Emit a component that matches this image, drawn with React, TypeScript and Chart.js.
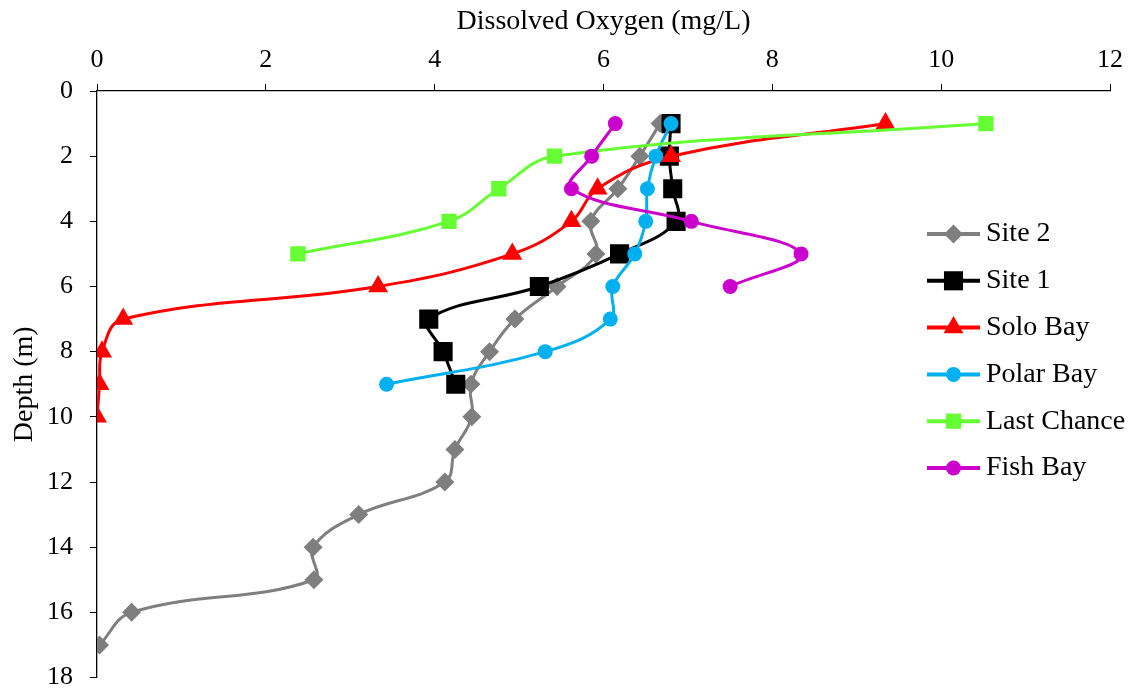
import React, { useEffect, useRef } from 'react';
import { Chart, registerables } from 'chart.js';

Chart.register(...registerables);

const FONT = "'Liberation Serif', 'Times New Roman', serif";

// Depth (m) and dissolved oxygen (mg/L) per site
const site2Depth = [1, 2, 3, 4, 5, 6, 7, 8, 9, 10, 11, 12, 13, 14, 15, 16, 17];
const site2DO = [6.67, 6.43, 6.17, 5.85, 5.91, 5.45, 4.95, 4.65, 4.43, 4.44, 4.24, 4.12, 3.1, 2.56, 2.57, 0.41, 0.03];

const site1Depth = [1, 2, 3, 4, 5, 6, 7, 8, 9];
const site1DO = [6.8, 6.78, 6.82, 6.86, 6.19, 5.24, 3.93, 4.1, 4.25];

const soloDepth = [1, 2, 3, 4, 5, 6, 7, 8, 9, 10];
const soloDO = [9.34, 6.8, 5.93, 5.62, 4.92, 3.33, 0.31, 0.06, 0.03, 0.0];

const polarDepth = [1, 2, 3, 4, 5, 6, 7, 8, 9];
const polarDO = [6.8, 6.62, 6.52, 6.5, 6.37, 6.11, 6.08, 5.31, 3.43];

const lastChanceDepth = [1, 2, 3, 4, 5];
const lastChanceDO = [10.53, 5.42, 4.76, 4.17, 2.38];

const fishDepth = [1, 2, 3, 4, 5, 6];
const fishDO = [6.14, 5.86, 5.62, 7.04, 8.34, 7.5];

const seriesNames = ['Site 2', 'Site 1', 'Solo Bay', 'Polar Bay', 'Last Chance', 'Fish Bay'];
const seriesColors = ['#7F7F7F', '#000000', '#FF0000', '#00B0F0', '#66FF33', '#CC00CC'];
const seriesShapes = ['rectRot', 'rect', 'triangle', 'circle', 'rect', 'circle'];
const seriesRadius = [9.5, 13.5, 11.5, 7.5, 10.8, 7.5];

const xTicks = [0, 2, 4, 6, 8, 10, 12];
const yTicks = [0, 2, 4, 6, 8, 10, 12, 14, 16, 18];

const seriesDepths = [site2Depth, site1Depth, soloDepth, polarDepth, lastChanceDepth, fishDepth];
const seriesValues = [site2DO, site1DO, soloDO, polarDO, lastChanceDO, fishDO];

function drawMarker(ctx: CanvasRenderingContext2D, shape: string, x: number, y: number, r: number, color: string) {
  ctx.save();
  ctx.fillStyle = color;
  ctx.beginPath();
  if (shape === 'rectRot') {
    ctx.moveTo(x, y - r);
    ctx.lineTo(x + r, y);
    ctx.lineTo(x, y + r);
    ctx.lineTo(x - r, y);
    ctx.closePath();
  } else if (shape === 'rect') {
    const h = r * Math.SQRT1_2;
    ctx.rect(x - h, y - h, 2 * h, 2 * h);
  } else if (shape === 'triangle') {
    ctx.moveTo(x, y - r);
    ctx.lineTo(x + 0.866 * r, y + r / 2);
    ctx.lineTo(x - 0.866 * r, y + r / 2);
    ctx.closePath();
  } else {
    ctx.arc(x, y, r, 0, Math.PI * 2);
  }
  ctx.fill();
  ctx.restore();
}

const legendPlugin = {
  id: 'customLegend',
  afterDraw(chart: any) {
    const ctx: CanvasRenderingContext2D = chart.ctx;
    const x0 = 927;
    const x1 = 980;
    const top = 234;
    const gap = 46.8;
    ctx.save();
    seriesNames.forEach((name, i) => {
      const y = top + i * gap;
      ctx.strokeStyle = seriesColors[i];
      ctx.lineWidth = 4;
      ctx.beginPath();
      ctx.moveTo(x0, y);
      ctx.lineTo(x1, y);
      ctx.stroke();
      drawMarker(ctx, seriesShapes[i], (x0 + x1) / 2, y, seriesRadius[i], seriesColors[i]);
      ctx.fillStyle = '#000';
      ctx.font = `28px ${FONT}`;
      ctx.textAlign = 'left';
      ctx.textBaseline = 'middle';
      ctx.fillText(name, 986, y);
    });
    ctx.restore();
  },
};

export default function App() {
  const canvasRef = useRef<HTMLCanvasElement | null>(null);

  useEffect(() => {
    const canvas = canvasRef.current;
    if (!canvas) return;
    const datasets = seriesNames.map((name, i) => ({
      label: name,
      data: seriesDepths[i].map((d, j) => ({ x: seriesValues[i][j], y: d })),
      showLine: true,
      borderColor: seriesColors[i],
      backgroundColor: seriesColors[i],
      borderWidth: 3,
      tension: 0.4,
      pointStyle: seriesShapes[i],
      pointRadius: seriesRadius[i],
      pointHoverRadius: seriesRadius[i],
      pointBorderWidth: 0,
      pointBackgroundColor: seriesColors[i],
      pointBorderColor: seriesColors[i],
      order: seriesNames.length - 1 - i,
    }));

    const chart = new Chart(canvas, {
      type: 'scatter',
      data: { datasets },
      plugins: [legendPlugin],
      options: {
        animation: false,
        responsive: false,
        maintainAspectRatio: false,
        layout: { padding: { left: 0, top: 0, right: 19, bottom: 13 } },
        plugins: {
          legend: { display: false },
          tooltip: { enabled: false },
        },
        scales: {
          x: {
            type: 'linear',
            position: 'top',
            min: 0,
            max: 12,
            afterBuildTicks: (scale: any) => {
              scale.ticks = xTicks.map((v) => ({ value: v }));
            },
            afterFit: (scale: any) => {
              scale.height = 91;
              scale.paddingLeft = 0;
              scale.paddingRight = 0;
            },
            ticks: {
              color: '#000',
              padding: 8,
              font: { family: FONT, size: 26 },
            },
            grid: {
              display: true,
              drawOnChartArea: false,
              drawTicks: true,
              tickLength: 7,
              color: '#000',
              lineWidth: 1,
            },
            border: { display: true, color: '#000', width: 1.3 },
            title: {
              display: true,
              text: 'Dissolved Oxygen (mg/L)',
              color: '#000',
              font: { family: FONT, size: 28 },
              padding: { top: 5, bottom: 0 },
            },
          },
          y: {
            type: 'linear',
            position: 'left',
            reverse: true,
            min: 0,
            max: 18,
            afterBuildTicks: (scale: any) => {
              scale.ticks = yTicks.map((v) => ({ value: v }));
            },
            afterFit: (scale: any) => {
              scale.width = 97;
              scale.paddingTop = 0;
              scale.paddingBottom = 0;
            },
            ticks: {
              color: '#000',
              padding: 17,
              font: { family: FONT, size: 26, lineHeight: 1 },
            },
            grid: {
              display: true,
              drawOnChartArea: false,
              drawTicks: true,
              tickLength: 7,
              color: '#000',
              lineWidth: 1,
            },
            border: { display: true, color: '#000', width: 1.3 },
            title: {
              display: true,
              text: 'Depth (m)',
              color: '#000',
              font: { family: FONT, size: 28 },
              padding: { top: 8, bottom: 0 },
            },
          },
        },
      },
    } as any);

    return () => chart.destroy();
  }, []);

  return (
    <div style={{ position: 'fixed', left: 0, top: 0, width: 1129, height: 691, background: '#fff' }}>
      <canvas ref={canvasRef} width={1129} height={691} style={{ display: 'block' }} />
    </div>
  );
}
